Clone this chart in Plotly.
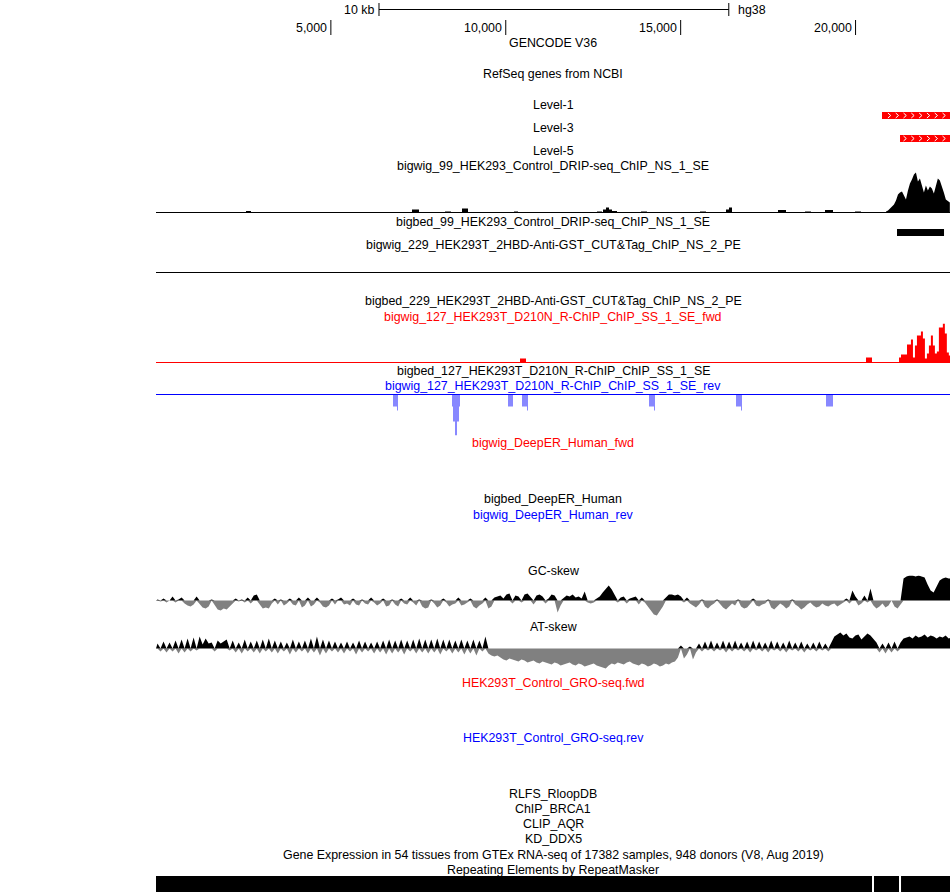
import plotly.graph_objects as go

# ---------------- data ----------------
REGION_START = 1
REGION_END = 22700

RULER_TICKS = [5000, 10000, 15000, 20000]
RULER_LABELS = ["5,000", "10,000", "15,000", "20,000"]
SCALE_BAR_START = 6376
SCALE_BAR_LENGTH = 10000
SCALE_BAR_LABEL = "10 kb"
ASSEMBLY = "hg38"

# GENCODE V36 features (bp)
LEVEL1_STARTS = [20756]
LEVEL1_ENDS = [22700]
LEVEL3_STARTS = [21271]
LEVEL3_ENDS = [22700]
CHEVRON_ORIGIN = 20965
CHEVRON_STEP = 223

# bigbed_99 DRIP peak
BB99_STARTS = [21185]
BB99_ENDS = [22529]

# bigwig_99 DRIP-seq signal (bedGraph style small bumps)
DRIP_STARTS = [2573, 7319, 8263, 8749, 10235, 12608, 12780, 12866, 12952, 13037,
               13866, 15553, 16296, 16382, 17783, 18555, 19127, 19984]
DRIP_ENDS = [2716, 7519, 8434, 8920, 10350, 12751, 12866, 12952, 13037, 13180,
             14037, 15725, 16382, 16468, 18012, 18726, 19356, 20156]
DRIP_VALUES = [1.5, 3, 1, 4, 1, 1, 3, 5, 3, 1.5, 1, 1, 3, 5, 2.5, 1, 2.5, 1]
# dense part of the DRIP signal (fixed step)
DRIP_PEAK_START = 20871
DRIP_PEAK_STEP = 57
DRIP_PEAK_VALUES = [1, 2, 4, 6, 8, 12, 18, 20, 21, 17, 13, 22, 29, 33, 38, 40, 31,
                    34, 27, 20, 27, 22, 26, 24, 19, 28, 34, 32, 27, 20, 13, 11, 10]

# bigwig_127 R-ChIP forward (red)
FWD_STARTS = [10407, 20299]
FWD_ENDS = [10579, 20471]
FWD_VALUES = [4, 5]
FWD_PEAK_START = 21242
FWD_PEAK_STEP = 57
FWD_PEAK_VALUES = [5, 8, 8, 8, 18, 18, 23, 5, 17, 27, 27, 31, 24, 4, 9, 17, 27,
                   17, 9, 11, 35, 35, 39, 29, 10, 7]

# bigwig_127 R-ChIP reverse (blue, negative)
REV_STARTS = [6776, 6890, 8463, 8491, 8548, 8606, 8663, 10064, 10464, 10607,
              14095, 14238, 16582, 16725, 19156]
REV_ENDS = [6890, 6919, 8491, 8548, 8606, 8663, 8692, 10207, 10607, 10636,
            14238, 14266, 16725, 16754, 19356]
REV_VALUES = [-12, -16, -12, -27, -41, -27, -12, -12, -12, -16, -12, -16, -12, -16, -12]

# GC / AT skew (fixed step)
SKEW_START = 1
SKEW_STEP = 86
GC_SKEW = [
    1, -1, 2, -2, 0, 4, -2, 1, 3, -3,
    -5, -6, -4, 4, -3, -7, -8, -6, 1, -5,
    -9, -10, -8, -9, -6, -4, 2, -1, 1, -2,
    3, -3, 5, 6, -4, -8, -7, -8, -3, 2,
    -4, 1, -5, -3, 2, -4, -5, 3, -7, -5,
    3, -6, -4, 3, -2, -6, -7, -5, 2, -4,
    1, 3, -4, -3, -5, 2, -4, -5, 1, -3,
    -4, 3, -2, -5, -3, 2, -6, -5, 1, -4,
    -6, 2, -3, -4, 3, -2, -5, 1, -6, -8,
    -7, 1, -3, -7, -5, 2, -2, -6, -4, -3,
    3, -5, -4, -2, 2, -6, -8, -5, -3, 3,
    -8, -6, 3, 4,
    5, 2, 6, 7, -3, 5, 4, -2, 6, 7,
    3, -4, 5, 6, 4, -3, 2, 6, 5, -12,
    -5, 3, 5, 4, 6, 3, 4, 2, 9, -2, -3, -2, 2,
    4, 8, 12, 15, 11, 6,
    -2, 3, 4, -3, 2, 3, 4, -4, 3, -2, -6, -10, -14, -15, -11, -6,
    3, 6, 6, 5, 6, 4, -2, 3,
    -3, -5, -7, -4, 1, -6, -8, -5, -3, 1,
    -4, -7, -9, -6, -3, -5, 1, -6, -8, -7,
    -4, 2, -5, -6, -4, -3, 1, -7, -9, -6,
    -3, -5, -8, -6, 1, -4, -6, -9, -7, -4,
    -2, -5, -7, -6, -3, -5, -6, -4,
    -3, -6, -4, -2, 2, -3, 10, 4, -5, -3, 5, -2, 12,
    -5, -8, -6, -3, -7, -5, 0, -6, -8, -4,
    22, 24, 25, 25, 24, 25, 24, 23, 16, 10, 8, 14, 20, 22, 23, 22, 22,
]
AT_SKEW = [
    5, -3, 7, -4, 6, -3, 8, -5, 9, -4,
    10, -3, 11, -2, 12, 4, 10, 5, 6, -3,
    8, 5, 7, 9, -2, 8, -4, 6, -5, 9,
    -3, 7, -4, 8, -5, 9, -3, 10, -4, 8,
    -5, 7, -3, 6, -6, 9, -4, 7, -3, 8,
    -5, 10, -4, 12, -7, 9, -5, 8, -3, 7,
    -4, 6, -5, 7, -3, 6, -6, 8, -4, 7,
    -3, 6, -5, 7, -4, 8, -6, 9, -5, 8,
    -4, 9, -6, 8, -3, 9, -5, 10, -4, 9,
    -5, 9, -4, 10, -6, 9, -3, 9, -5, 8,
    -4, 9, -6, 8, -5, 9, -7, 8, -3, 12,
    -5, -7, -8, -7, -9, -11, -12, -10, -11, -12,
    -13, -11, -12, -14, -13, -12, -14, -15, -13, -14,
    -15, -16, -14, -15, -17, -16, -15, -14, -16, -17,
    -15, -16, -18, -17, -16, -15, -17, -18, -19, -20,
    -17, -15, -16, -14, -15, -16, -14, -13, -15, -16,
    -17, -15, -16, -18, -17, -15, -16, -18, -17, -15, -16, -14, -13,
    -9, 3, -10, -6, 2, -11, -4, 5,
    -3, 7, -2, 8, -3, 6, -2, 8, -4, 7,
    -3, 8, -2, 6, -3, 7, -4, 8, -2, 7,
    -3, 6, -4, 8, -2, 7, -3, 6, -4, 8,
    -2, 6, -3, 7, -4, 5, -2, 6, -3, 7,
    -2, 5, -3,
    6, 12, 14, 16, 13, 15, 11, 10, 13, 14, 9, 12, 15, 13, 10, 6,
    -4, 5, -5, 6, -4, 7, -3,
    6, 10, 11, 12, 10, 13, 11, 12, 14, 11, 13, 12, 10, 12, 11, 13, 10, 11,
]

# RepeatMasker blocks
RMSK_STARTS = [1, 20528, 21300]
RMSK_ENDS = [20470, 21242, 22700]

# ---------------- layout helpers ----------------
W, H = 950, 892
X_LEFT = 156
FONT = "Liberation Sans, Arial, sans-serif"
FONT_SIZE = 12.4
BLACK, RED, BLUE = "#000000", "#ff0000", "#0000ff"
LIGHT_BLUE = "#8888ff"
GRAY = "#808080"


def track_axis(zero_row, up, down):
    """y-axis whose zero sits in the middle of pixel row zero_row, 1 unit = 1 px."""
    z = zero_row + 0.5
    return dict(domain=[1 - (z + down) / H, 1 - (z - up) / H], range=[-down, up],
                anchor="x", visible=False, fixedrange=True)


fig = go.Figure()


def bedgraph(starts, ends, vals):
    xs, ys = [], []
    for s, e, v in zip(starts, ends, vals):
        xs += [s, s, e, e]
        ys += [0, v, v, 0]
    return xs, ys


def fixed_linear(start, step, vals):
    xs = [start] + [start + i * step for i in range(len(vals))] + [start + (len(vals) - 1) * step]
    ys = [0] + list(vals) + [0]
    return xs, ys


def fixed_steps(start, step, vals):
    starts = [start + i * step for i in range(len(vals))]
    ends = [s + step for s in starts]
    return bedgraph(starts, ends, vals)


def area(xs, ys, color, yaxis):
    fig.add_trace(go.Scatter(x=xs, y=ys, mode="lines", line=dict(width=0, color=color),
                             fill="tozeroy", fillcolor=color, yaxis=yaxis,
                             hoverinfo="skip"))


def baseline(color, yaxis):
    fig.add_trace(go.Scatter(x=[REGION_START, REGION_END], y=[0, 0], mode="lines",
                             line=dict(width=1, color=color), yaxis=yaxis,
                             hoverinfo="skip"))


def rect(x0, x1, top, bottom, color):
    fig.add_trace(go.Scatter(x=[x0, x1, x1, x0, x0], y=[top, top, bottom, bottom, top],
                             mode="lines", line=dict(width=0, color=color),
                             fill="toself", fillcolor=color, yaxis="y",
                             hoverinfo="skip"))


# ---- ruler ----
sb_end = SCALE_BAR_START + SCALE_BAR_LENGTH
fig.add_trace(go.Scatter(
    x=[SCALE_BAR_START, sb_end, None, SCALE_BAR_START, SCALE_BAR_START, None, sb_end, sb_end],
    y=[9.5, 9.5, None, 3, 16, None, 3, 16], mode="lines",
    line=dict(width=1, color=BLACK), yaxis="y", hoverinfo="skip"))
tx, ty = [], []
for t in RULER_TICKS:
    tx += [t, t, None]
    ty += [20, 35, None]
fig.add_trace(go.Scatter(x=tx, y=ty, mode="lines", line=dict(width=1, color=BLACK),
                         yaxis="y", hoverinfo="skip"))

annotations = []
for t, lab in zip(RULER_TICKS, RULER_LABELS):
    annotations.append(dict(x=t, y=28, xref="x", yref="y", text=lab, showarrow=False,
                            xanchor="right", xshift=-2,
                            font=dict(family=FONT, size=FONT_SIZE, color=BLACK)))
annotations.append(dict(x=SCALE_BAR_START, y=9.5, xref="x", yref="y", text=SCALE_BAR_LABEL,
                        showarrow=False, xanchor="right", xshift=-3,
                        font=dict(family=FONT, size=FONT_SIZE, color=BLACK)))
annotations.append(dict(x=sb_end, y=9.5, xref="x", yref="y", text=ASSEMBLY,
                        showarrow=False, xanchor="left", xshift=7,
                        font=dict(family=FONT, size=FONT_SIZE, color=BLACK)))


# ---- GENCODE features ----
def gene_rows(starts, ends, top, bottom):
    for s, e in zip(starts, ends):
        rect(s, e, top, bottom, RED)
        cx, cy = [], []
        k = 0
        while True:
            c = CHEVRON_ORIGIN + k * CHEVRON_STEP
            k += 1
            if c > e:
                break
            if c - 60 < s:
                continue
            mid = (top + bottom) / 2
            cx += [c - 40, c + 40, c - 40, None]
            cy += [mid - 2.5, mid, mid + 2.5, None]
        fig.add_trace(go.Scatter(x=cx, y=cy, mode="lines", line=dict(width=1, color="white"),
                                 yaxis="y", hoverinfo="skip"))


gene_rows(LEVEL1_STARTS, LEVEL1_ENDS, 112, 119)
gene_rows(LEVEL3_STARTS, LEVEL3_ENDS, 135, 142)

# ---- DRIP bigwig ----
area(*bedgraph(DRIP_STARTS, DRIP_ENDS, DRIP_VALUES), BLACK, "y2")
area(*fixed_linear(DRIP_PEAK_START, DRIP_PEAK_STEP, DRIP_PEAK_VALUES), BLACK, "y2")
baseline(BLACK, "y2")
# bigbed 99
for s, e in zip(BB99_STARTS, BB99_ENDS):
    rect(s, e, 229, 236, BLACK)

# ---- CUT&Tag (empty) ----
baseline(BLACK, "y3")

# ---- R-ChIP fwd ----
area(*bedgraph(FWD_STARTS, FWD_ENDS, FWD_VALUES), RED, "y4")
area(*fixed_steps(FWD_PEAK_START, FWD_PEAK_STEP, FWD_PEAK_VALUES), RED, "y4")
baseline(RED, "y4")

# ---- R-ChIP rev ----
area(*bedgraph(REV_STARTS, REV_ENDS, REV_VALUES), LIGHT_BLUE, "y5")
baseline(BLUE, "y5")


# ---- skews ----
def skew(vals, yaxis):
    xs = [SKEW_START + (i + 0.5) * SKEW_STEP for i in range(len(vals))]
    pos = [max(v, 0) for v in vals]
    neg = [min(v, 0) for v in vals]
    xe = [SKEW_START] + xs + [SKEW_START + len(vals) * SKEW_STEP]
    area(xe, [0] + neg + [0], GRAY, yaxis)
    area(xe, [0] + pos + [0], BLACK, yaxis)


skew(GC_SKEW, "y6")
skew(AT_SKEW, "y7")

# ---- RepeatMasker ----
for s, e in zip(RMSK_STARTS, RMSK_ENDS):
    rect(s, e, 876, 892, BLACK)

# ---- track labels ----
TRACK_LABELS = [
    ("GENCODE V36", 43, BLACK),
    ("RefSeq genes from NCBI", 74, BLACK),
    ("Level-1", 105, BLACK),
    ("Level-3", 128, BLACK),
    ("Level-5", 151, BLACK),
    ("bigwig_99_HEK293_Control_DRIP-seq_ChIP_NS_1_SE", 166, BLACK),
    ("bigbed_99_HEK293_Control_DRIP-seq_ChIP_NS_1_SE", 222, BLACK),
    ("bigwig_229_HEK293T_2HBD-Anti-GST_CUT&amp;Tag_ChIP_NS_2_PE", 245, BLACK),
    ("bigbed_229_HEK293T_2HBD-Anti-GST_CUT&amp;Tag_ChIP_NS_2_PE", 301, BLACK),
    ("bigwig_127_HEK293T_D210N_R-ChIP_ChIP_SS_1_SE_fwd", 317, RED),
    ("bigbed_127_HEK293T_D210N_R-ChIP_ChIP_SS_1_SE", 371, BLACK),
    ("bigwig_127_HEK293T_D210N_R-ChIP_ChIP_SS_1_SE_rev", 386, BLUE),
    ("bigwig_DeepER_Human_fwd", 443, RED),
    ("bigbed_DeepER_Human", 499, BLACK),
    ("bigwig_DeepER_Human_rev", 515, BLUE),
    ("GC-skew", 571, BLACK),
    ("AT-skew", 627, BLACK),
    ("HEK293T_Control_GRO-seq.fwd", 683, RED),
    ("HEK293T_Control_GRO-seq.rev", 738, BLUE),
    ("RLFS_RloopDB", 794, BLACK),
    ("ChIP_BRCA1", 809, BLACK),
    ("CLIP_AQR", 824, BLACK),
    ("KD_DDX5", 839, BLACK),
    ("Gene Expression in 54 tissues from GTEx RNA-seq of 17382 samples, 948 donors (V8, Aug 2019)", 855, BLACK),
    ("Repeating Elements by RepeatMasker", 870, BLACK),
]
center_paper = (X_LEFT + (W - X_LEFT) / 2) / W
for text, ypx, col in TRACK_LABELS:
    annotations.append(dict(x=center_paper, y=ypx, xref="paper", yref="y", text=text,
                            showarrow=False, xanchor="center", yanchor="middle",
                            font=dict(family=FONT, size=FONT_SIZE, color=col)))

hidden = dict(visible=False, fixedrange=True)
fig.update_layout(
    width=W, height=H, margin=dict(l=0, r=0, t=0, b=0), autosize=False,
    paper_bgcolor="white", plot_bgcolor="white", showlegend=False,
    annotations=annotations,
    xaxis=dict(domain=[X_LEFT / W, 1], range=[REGION_START, REGION_END], anchor="y", **hidden),
    yaxis=dict(domain=[0, 1], range=[H, 0], anchor="x", **hidden),
    yaxis2=track_axis(212, 42, 1),
    yaxis3=track_axis(272, 20, 1),
    yaxis4=track_axis(362, 39, 1),
    yaxis5=track_axis(394, 1, 41),
    yaxis6=track_axis(600, 25, 17),
    yaxis7=track_axis(648, 18, 21),
)

POST = (
    "document.body.style.margin='0';document.body.style.padding='0';"
    "document.documentElement.style.overflow='hidden';"
    "var gd=document.getElementById('{plot_id}');"
    "Plotly.relayout(gd,{width:950,height:892});"
)
fig.write_html("out.html", config={"responsive": False, "displayModeBar": False},
               post_script=POST)
